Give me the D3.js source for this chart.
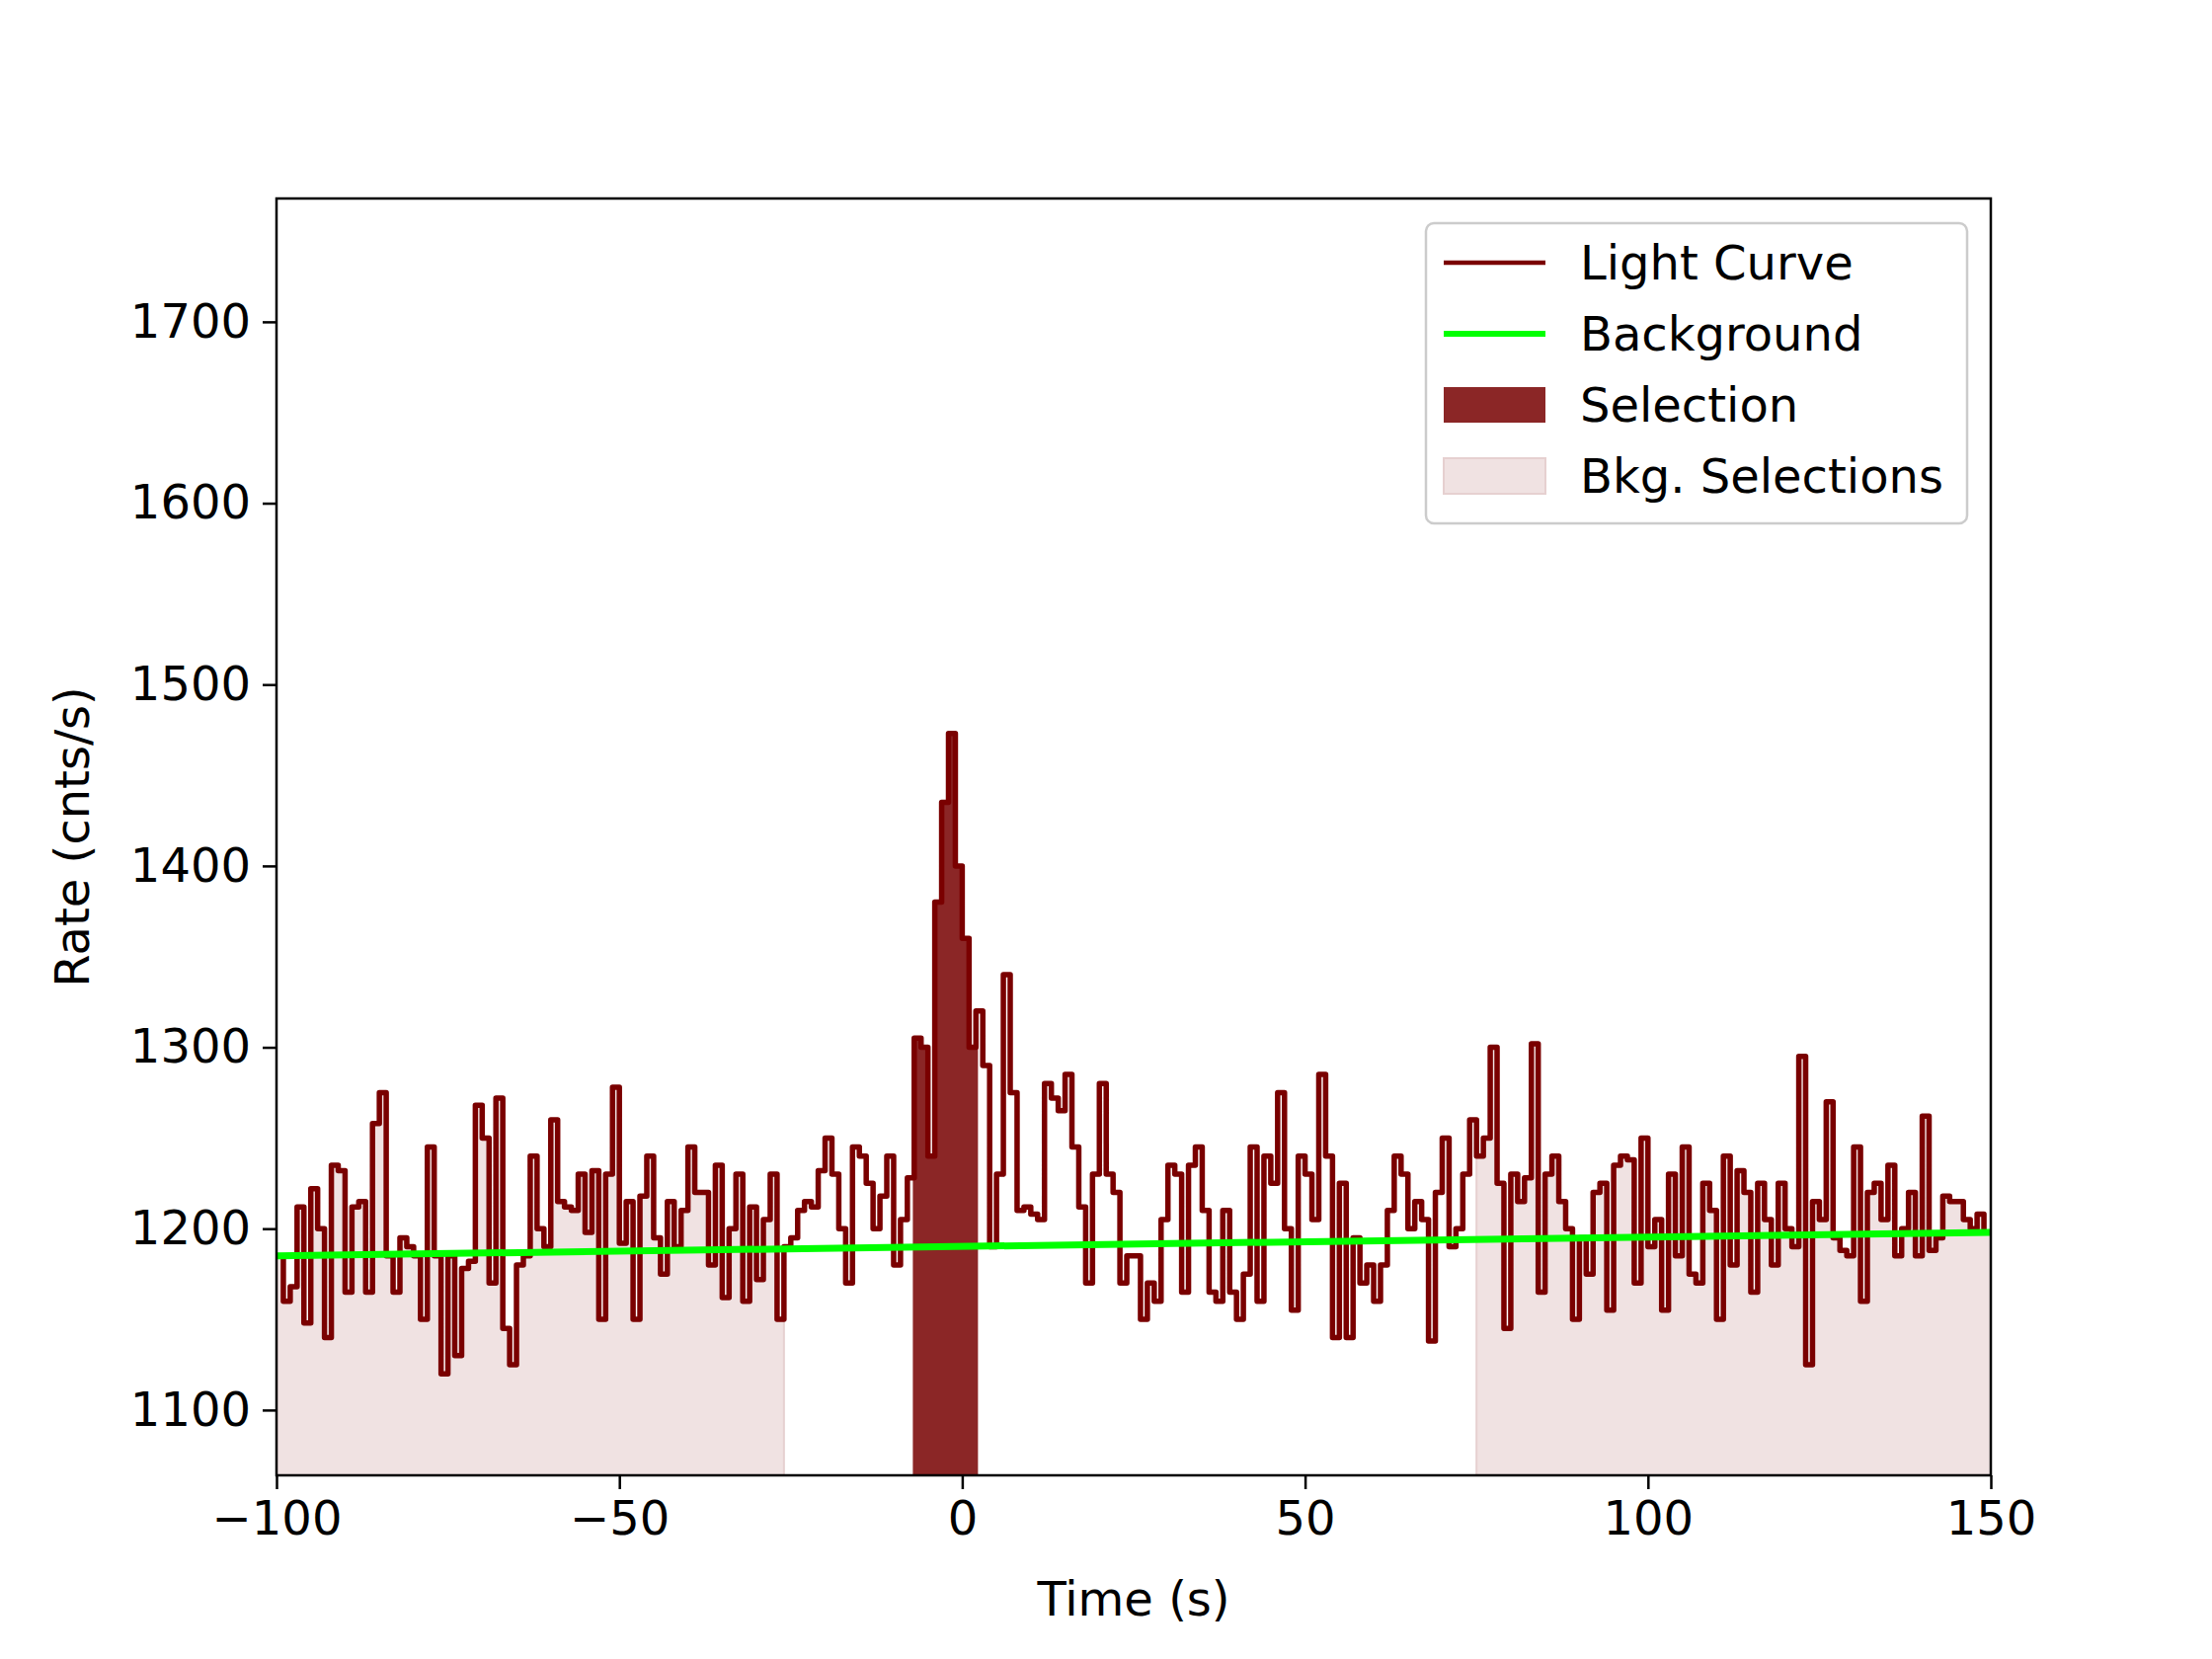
<!DOCTYPE html>
<html><head><meta charset="utf-8">
<script src="https://cdn.jsdelivr.net/npm/d3@7"></script>
<style>body{margin:0;background:#fff}text{font-family:"DejaVu Sans",sans-serif}</style>
</head><body><svg id="c" width="2240" height="1680"></svg>
<script>
const tStart = -100, binWidth = 1;
const rates = [
1185,1160,1168,1212,1148,1222,1200,1140,1235,1232,1165,1212,1215,1165,1258,1275,1185,1165,1195,1190,1185,1150,1245,1185,1120,
1185,1130,1178,1182,1268,1250,1170,1272,1145,1125,1180,1185,1240,1200,1190,1260,1215,1212,1210,1230,1198,1232,1150,1230,1278,
1192,1215,1150,1218,1240,1195,1175,1215,1190,1210,1245,1220,1220,1180,1235,1162,1200,1230,1160,1212,1172,1205,1230,1150,1190,
1195,1210,1215,1212,1232,1250,1230,1200,1170,1245,1240,1225,1200,1218,1240,1180,1205,1228,1305,1300,1240,1380,1435,1473,1400,
1360,1300,1320,1290,1190,1230,1340,1275,1210,1212,1208,1205,1280,1272,1265,1285,1245,1212,1170,1230,1280,1230,1220,1170,1185,
1185,1150,1170,1160,1205,1235,1230,1165,1235,1245,1210,1165,1160,1210,1165,1150,1175,1245,1160,1240,1225,1275,1200,1155,1240,
1230,1205,1285,1240,1140,1225,1140,1195,1170,1180,1160,1180,1210,1240,1230,1200,1215,1205,1138,1220,1250,1190,1200,1230,1260,
1240,1250,1300,1225,1145,1230,1215,1228,1302,1165,1230,1240,1215,1200,1150,1195,1175,1220,1225,1155,1235,1240,1238,1170,1250,
1190,1205,1155,1230,1185,1245,1175,1170,1225,1210,1150,1240,1180,1232,1220,1165,1225,1205,1180,1225,1200,1190,1295,1125,1215,
1205,1270,1195,1188,1185,1245,1160,1220,1225,1205,1235,1185,1200,1220,1185,1262,1188,1195,1218,1215,1215,1205,1200,1208,1198];
const bkgLine = [[-100,1185],[150,1198]];
const selection = [-7.2, 2.3];
const bkgSelections = [[-100,-26],[75,150]];
const xTicks = [-100,-50,0,50,100,150];
const yTicks = [1100,1200,1300,1400,1500,1600,1700];

const svg = d3.select("#c");
const L=280,R=2016,T=201,B=1494;
const x = d3.scaleLinear().domain([-100,150]).range([L,R]);
const y = d3.scaleLinear().domain([1064,1768]).range([B,T]);
const pts = rates.map((v,i)=>[tStart+i*binWidth,v]);
pts.push([tStart+rates.length*binWidth, rates[rates.length-1]]);
function rateAt(t){const i=Math.min(rates.length-1,Math.max(0,Math.floor((t-tStart)/binWidth)));return rates[i];}
function regionPts(a,b){const r=[[a,rateAt(a)]];pts.forEach(p=>{if(p[0]>a&&p[0]<b)r.push(p)});r.push([b,rateAt(b-1e-6)]);return r;}
const area = d3.area().curve(d3.curveStepAfter).x(d=>x(d[0])).y0(B).y1(d=>y(d[1]));
svg.append("clipPath").attr("id","pc").append("rect").attr("x",L).attr("y",T).attr("width",R-L).attr("height",B-T);
const g = svg.append("g").attr("clip-path","url(#pc)");
bkgSelections.forEach(s=>g.append("path").datum(regionPts(s[0],s[1])).attr("d",area).attr("fill","#f0e2e2").attr("stroke","#e6d0d0").attr("stroke-width",2));
g.append("path").datum(regionPts(selection[0],selection[1])).attr("d",area).attr("fill","#8b2626");
g.append("path").datum(pts).attr("d",d3.line().curve(d3.curveStepAfter).x(d=>x(d[0])).y(d=>y(d[1]))).attr("fill","none").attr("stroke","#7a0000").attr("stroke-width",5.5).attr("stroke-linejoin","round");
g.append("path").datum(bkgLine).attr("d",d3.line().x(d=>x(d[0])).y(d=>y(d[1]))).attr("fill","none").attr("stroke","#00ff00").attr("stroke-width",7);
svg.append("rect").attr("x",L).attr("y",T).attr("width",R-L).attr("height",B-T).attr("fill","none").attr("stroke","#000").attr("stroke-width",2.5);
const xa = svg.append("g").attr("transform",`translate(0,${B})`).call(d3.axisBottom(x).tickValues(xTicks).tickSize(14).tickPadding(12).tickFormat(d=>d<0?"\u2212"+(-d):String(d)));
const ya = svg.append("g").attr("transform",`translate(${L},0)`).call(d3.axisLeft(y).tickValues(yTicks).tickSize(14).tickPadding(12).tickFormat(d3.format("d")));
[xa,ya].forEach(a=>{a.select(".domain").remove();a.selectAll("line").attr("stroke-width",2.5);a.selectAll("text").attr("font-size",48).attr("font-family","DejaVu Sans").attr("fill","#000");});
svg.append("text").attr("x",(L+R)/2).attr("y",1636).attr("text-anchor","middle").attr("font-size",48).text("Time (s)");
svg.append("text").attr("transform",`translate(90,${(T+B)/2}) rotate(-90)`).attr("text-anchor","middle").attr("font-size",48).text("Rate (cnts/s)");
const lg = svg.append("g");
lg.append("rect").attr("x",1444).attr("y",226).attr("width",548).attr("height",304).attr("rx",8).attr("fill","#fff").attr("fill-opacity",0.8).attr("stroke","#ccc").attr("stroke-width",2.5);
const items=[["Light Curve","line","#7a0000",4.5],["Background","line","#00ff00",6],["Selection","rect","#8b2626"],["Bkg. Selections","rect","#f0e2e2"]];
items.forEach((it,i)=>{const cy=266+i*72;
 if(it[1]=="line") lg.append("line").attr("x1",1462).attr("x2",1565).attr("y1",cy).attr("y2",cy).attr("stroke",it[2]).attr("stroke-width",it[3]);
 else lg.append("rect").attr("x",1462).attr("y",cy-18).attr("width",103).attr("height",36).attr("fill",it[2]).attr("stroke",i==3?"#e6d0d0":"none").attr("stroke-width",2);
 lg.append("text").attr("x",1600).attr("y",cy+17).attr("font-size",48).text(it[0]);});
</script></body></html>
